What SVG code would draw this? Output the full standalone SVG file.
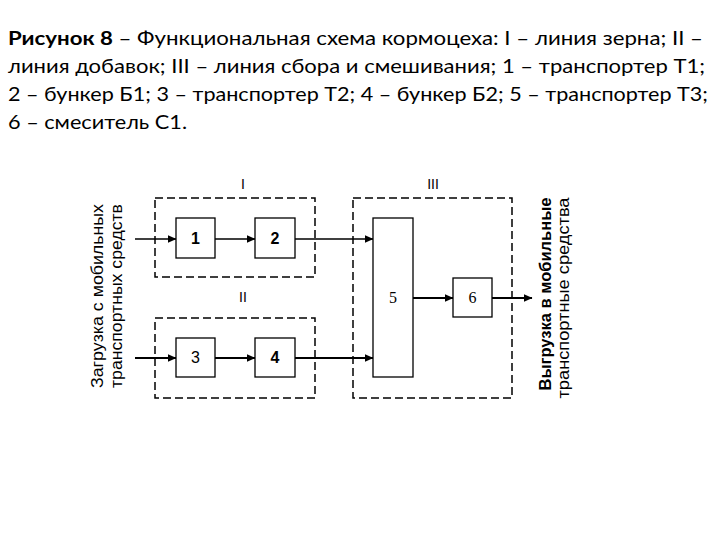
<svg xmlns="http://www.w3.org/2000/svg" width="720" height="540" viewBox="0 0 720 540">
<style>
.cap{font-family:Lato,"Liberation Sans",sans-serif;font-size:19px;fill:#000}
.b{font-weight:bold}
.grp{fill:none;stroke:#000;stroke-width:1.5;stroke-dasharray:8 4}
.node{fill:#fff;stroke:#000;stroke-width:1.3}
.lbl{font-family:"Liberation Sans",Arial,sans-serif;font-size:16px;text-anchor:middle;fill:#000}
.ser{font-family:"Liberation Serif","Times New Roman",serif;font-size:16px;text-anchor:middle;fill:#000}
.rom{font-family:"Liberation Sans",Arial,sans-serif;font-size:14px;text-anchor:middle;fill:#000}
.side{font-family:"Liberation Sans",Arial,sans-serif;font-size:16px;text-anchor:middle;fill:#000}
.con{fill:none;stroke:#000;stroke-width:1.4}
</style>
<defs>
<marker id="ah" markerWidth="9" markerHeight="8" refX="8.5" refY="4" orient="auto" markerUnits="userSpaceOnUse">
<path d="M0,0 L9,4 L0,8 Z" fill="#000"/>
</marker>
</defs>
<rect width="720" height="540" fill="#fff"/>
<g id="caption">
<text class="cap" x="8" y="45" textLength="695" lengthAdjust="spacingAndGlyphs"><tspan class="b">Рисунок 8</tspan> – Функциональная схема кормоцеха: I – линия зерна; II –</text>
<text class="cap" x="8" y="73" textLength="697" lengthAdjust="spacingAndGlyphs">линия добавок; III – линия сбора и смешивания; 1 – транспортер Т1;</text>
<text class="cap" x="8" y="101" textLength="700" lengthAdjust="spacingAndGlyphs">2 – бункер Б1; 3 – транспортер Т2; 4 – бункер Б2; 5 – транспортер Т3;</text>
<text class="cap" x="8" y="129" textLength="179" lengthAdjust="spacingAndGlyphs">6 – смеситель С1.</text>
</g>
<g id="group-I">
<rect class="grp" x="155" y="198" width="160" height="79"/>
<text class="rom" x="243" y="189">I</text>
</g>
<g id="group-II">
<rect class="grp" x="155" y="318" width="160" height="80"/>
<text class="rom" x="243" y="302">II</text>
</g>
<g id="group-III">
<rect class="grp" x="353" y="198" width="159" height="200"/>
<text class="rom" x="433" y="189">III</text>
</g>
<g id="connectors">
<line class="con" x1="135" y1="239" x2="176" y2="239" marker-end="url(#ah)"/>
<line class="con" x1="215" y1="239" x2="255" y2="239" marker-end="url(#ah)"/>
<line class="con" x1="295" y1="239" x2="373" y2="239" marker-end="url(#ah)"/>
<line class="con" x1="135" y1="358" x2="176" y2="358" marker-end="url(#ah)" style="stroke-width:1.8"/>
<line class="con" x1="215" y1="358" x2="255" y2="358" marker-end="url(#ah)" style="stroke-width:1.8"/>
<line class="con" x1="295" y1="358" x2="373" y2="358" marker-end="url(#ah)" style="stroke-width:1.8"/>
<line class="con" x1="413" y1="298" x2="453" y2="298" marker-end="url(#ah)" style="stroke-width:1.8"/>
<line class="con" x1="492" y1="298" x2="532" y2="298" marker-end="url(#ah)" style="stroke-width:1.8"/>
</g>
<g id="node-1">
<rect class="node" x="176" y="218" width="39" height="40"/>
<text class="lbl" x="195.5" y="244" font-weight="bold">1</text>
</g>
<g id="node-2">
<rect class="node" x="255" y="218" width="40" height="40"/>
<text class="lbl" x="275" y="244" font-weight="bold">2</text>
</g>
<g id="node-3">
<rect class="node" x="176" y="338" width="39" height="39"/>
<text class="lbl" x="195.5" y="363">3</text>
</g>
<g id="node-4">
<rect class="node" x="255" y="338" width="40" height="39"/>
<text class="lbl" x="275" y="363" font-weight="bold">4</text>
</g>
<g id="node-5">
<rect class="node" x="373" y="218" width="40" height="159"/>
<text class="ser" x="393" y="303">5</text>
</g>
<g id="node-6">
<rect class="node" x="453" y="278" width="39" height="39"/>
<text class="ser" x="472.5" y="303">6</text>
</g>
<g id="input-label">
<text class="side" transform="translate(103,296) rotate(-90)" textLength="184" lengthAdjust="spacingAndGlyphs">Загрузка с мобильных</text>
<text class="side" transform="translate(122,296) rotate(-90)" textLength="184" lengthAdjust="spacingAndGlyphs">транспортных средств</text>
</g>
<g id="output-label">
<text class="side" transform="translate(551,294) rotate(-90)" font-weight="bold" textLength="193" lengthAdjust="spacingAndGlyphs">Выгрузка в мобильные</text>
<text class="side" transform="translate(569,298) rotate(-90)" textLength="201" lengthAdjust="spacingAndGlyphs">транспортные средства</text>
</g>
</svg>
